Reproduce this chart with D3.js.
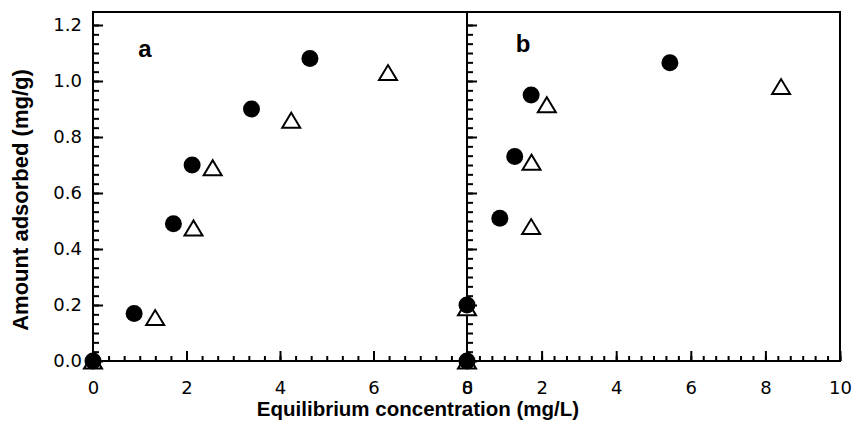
<!DOCTYPE html>
<html>
<head>
<meta charset="utf-8">
<script src="https://cdn.jsdelivr.net/npm/d3@7"></script>
<style>
body { margin: 0; background: #fff; }
svg { display: block; }
</style>
</head>
<body>
<svg width="854" height="424"></svg>
<script>
// panel a
var aCircleX = [0, 0.88, 1.72, 2.12, 3.39, 4.64];
var aCircleY = [0, 0.17, 0.49, 0.70, 0.90, 1.08];
var aTriX = [0, 1.33, 2.15, 2.56, 4.24, 6.31];
var aTriY = [0, 0.155, 0.475, 0.69, 0.86, 1.03];
// panel b
var bCircleX = [0, 0, 0.88, 1.28, 1.72, 5.44];
var bCircleY = [0, 0.2, 0.51, 0.73, 0.95, 1.065];
var bTriX = [0, 0, 1.72, 1.73, 2.14, 8.42];
var bTriY = [0, 0.19, 0.48, 0.71, 0.915, 0.98];

var aTicks = [0, 2, 4, 6, 8];
var bTicks = [0, 2, 4, 6, 8, 10];
var yTicks = [0, 0.2, 0.4, 0.6, 0.8, 1.0, 1.2];

var svg = d3.select("svg");

var pLeft = 93, pMid = 467, pRight = 840, pTop = 12, pBottom = 361;

var xa = d3.scaleLinear().domain([0, 8]).range([pLeft, pMid]);
var xb = d3.scaleLinear().domain([0, 10]).range([pMid, pRight]);
var y = d3.scaleLinear().domain([0, 1.2]).range([pBottom, 25]);

var tickFont = "'DejaVu Sans', sans-serif";
var titleFont = "'Liberation Sans', Arial, sans-serif";

function styleAxis(g) {
    g.selectAll("path.domain").remove();
    g.selectAll("line").attr("stroke", "#000").attr("stroke-width", 2);
    g.selectAll("text").attr("fill", "#000")
        .style("font-family", tickFont).style("font-size", "18px");
}

// x axes, ticks pointing in
function xAxis(scale, ticks, max) {
    svg.append("g")
        .attr("transform", "translate(0," + pBottom + ")")
        .call(d3.axisBottom(scale).tickValues(d3.range(0, max + 1e-9, 1 / 3))
            .tickFormat("").tickSizeInner(-5).tickSizeOuter(0))
        .call(styleAxis);
    svg.append("g")
        .attr("transform", "translate(0," + pBottom + ")")
        .call(d3.axisBottom(scale).tickValues(ticks)
            .tickFormat(d3.format("d")).tickSizeInner(-10).tickSizeOuter(0).tickPadding(20))
        .call(styleAxis);
}
xAxis(xa, aTicks, 8);
xAxis(xb, bTicks, 10);

// y axes on both panels
function yAxis(xpos) {
    svg.append("g")
        .attr("transform", "translate(" + xpos + ",0)")
        .call(d3.axisRight(y).tickValues(d3.range(0, 1.2 + 1e-9, 1 / 30))
            .tickFormat("").tickSizeInner(6).tickSizeOuter(0))
        .call(styleAxis);
    svg.append("g")
        .attr("transform", "translate(" + xpos + ",0)")
        .call(d3.axisRight(y).tickValues(yTicks).tickFormat("").tickSizeInner(10).tickSizeOuter(0))
        .call(styleAxis);
}
yAxis(pLeft);
yAxis(pMid);

svg.append("g")
    .attr("transform", "translate(" + pLeft + ",0)")
    .call(d3.axisLeft(y).tickValues(yTicks).tickFormat(d3.format(".1f")).tickSize(0).tickPadding(11))
    .call(styleAxis);

// frame
var frame = svg.append("g").attr("stroke", "#000").attr("stroke-width", 2).attr("fill", "none");
frame.append("path").attr("d", "M" + pLeft + "," + pBottom + "V" + pTop + "H" + pRight + "V" + pBottom + "H" + pLeft);
frame.append("line").attr("x1", pMid).attr("x2", pMid).attr("y1", pTop).attr("y2", pBottom);

// markers
function triPath(cx, cy) {
    var w = 9, h = 7.5;
    return "M" + (cx - w) + "," + (cy + h) + "L" + cx + "," + (cy - h) + "L" + (cx + w) + "," + (cy + h) + "Z";
}
function drawPanel(xs, cx, cy, tx, ty) {
    svg.append("g").selectAll("path")
        .data(d3.range(tx.length))
        .enter().append("path")
        .attr("d", function (i) { return triPath(xs(tx[i]), y(ty[i])); })
        .attr("fill", "#fff")
        .attr("stroke", "#000")
        .attr("stroke-width", 2);
    svg.append("g").selectAll("circle")
        .data(d3.range(cx.length))
        .enter().append("circle")
        .attr("cx", function (i) { return xs(cx[i]); })
        .attr("cy", function (i) { return y(cy[i]); })
        .attr("r", 8.5)
        .attr("fill", "#000");
}
drawPanel(xa, aCircleX, aCircleY, aTriX, aTriY);
drawPanel(xb, bCircleX, bCircleY, bTriX, bTriY);

// panel letters
svg.append("text").attr("x", 145).attr("y", 57).attr("text-anchor", "middle")
    .style("font-family", titleFont).style("font-size", "24px").style("font-weight", "bold").text("a");
svg.append("text").attr("x", 523).attr("y", 52).attr("text-anchor", "middle")
    .style("font-family", titleFont).style("font-size", "24px").style("font-weight", "bold").text("b");

// axis titles
svg.append("text").attr("x", 418).attr("y", 416).attr("text-anchor", "middle")
    .style("font-family", titleFont).style("font-size", "20.5px").style("font-weight", "bold")
    .text("Equilibrium concentration (mg/L)");
svg.append("text").attr("transform", "translate(28,200) rotate(-90)").attr("text-anchor", "middle")
    .style("font-family", titleFont).style("font-size", "22px").style("font-weight", "bold")
    .text("Amount adsorbed (mg/g)");
</script>
</body>
</html>
